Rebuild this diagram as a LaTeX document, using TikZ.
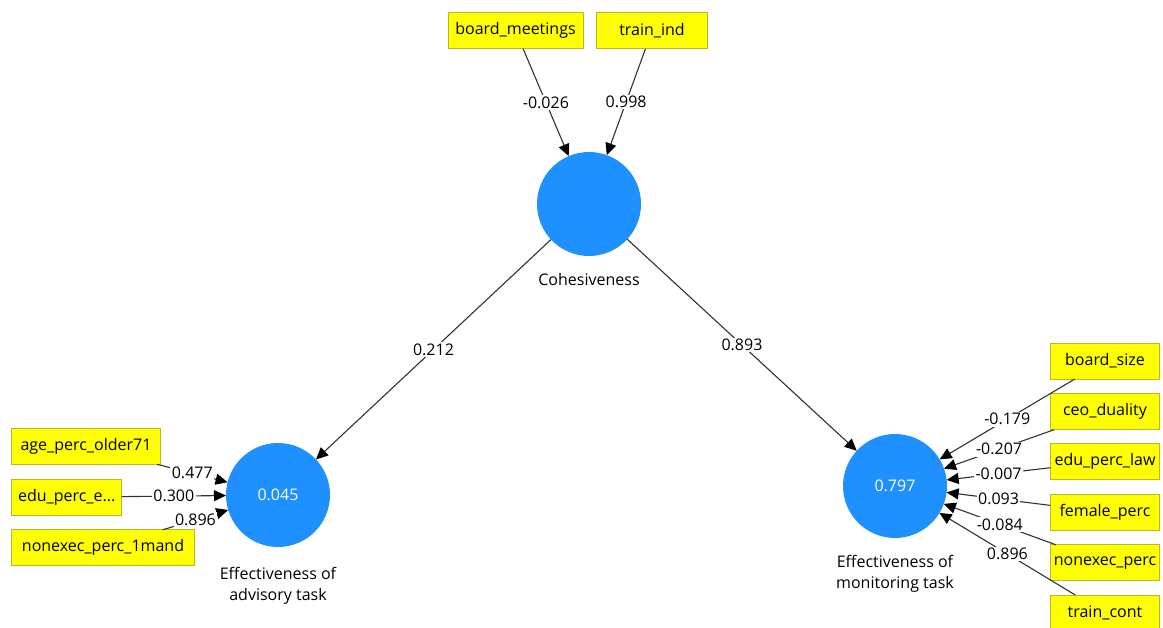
\documentclass[tikz,border=0pt]{standalone}
\usepackage{fontspec}
\setmainfont{Open Sans}
\usetikzlibrary{arrows.meta}

\definecolor{plsblue}{RGB}{30,144,255}
\definecolor{mvfill}{RGB}{255,255,0}
\definecolor{mvborder}{RGB}{185,185,40}
\definecolor{pathgray}{RGB}{50,50,50}

\tikzset{
  every node/.style={font=\fontsize{16}{21}\selectfont},
  lv/.style={circle, fill=plsblue, draw=none, minimum size=104pt,
             inner sep=0pt, outer sep=0pt, text=white},
  mv/.style={rectangle, fill=mvfill, draw=mvborder, line width=0.9pt,
             minimum height=36pt, inner sep=0pt, outer sep=0pt, text=black},
  lvcaption/.style={anchor=north, align=center, inner sep=0pt, text=black},
  pathline/.style={draw=pathgray, line width=1.1pt,
                   -{Triangle[length=12pt,width=11pt,black]}},
  coef/.style={midway, fill=white, inner sep=1.5pt, text=black}
}

\begin{document}
\begin{tikzpicture}[x=1pt,y=-1pt]
  \useasboundingbox (0,0) rectangle (1163,628);

  % latent variables
  \node[lv] (coh) at (589,204) {};
  \node[lv] (adv) at (278,495) {0.045};
  \node[lv] (mon) at (895,486) {0.797};

  \node[lvcaption] (cohcap) at (589,273) {Cohesiveness};
  \node[lvcaption] (advcap) at (278,567) {Effectiveness of\\advisory task};
  \node[lvcaption] (moncap) at (895,555) {Effectiveness of\\monitoring task};

  % indicators of Cohesiveness
  \node[mv, minimum width=135pt] (bm) at (515.5,30.8) {board\_meetings};
  \node[mv, minimum width=110.5pt] (ti) at (652,30.8) {train\_ind};

  % indicators of advisory task
  \node[mv, minimum width=148.5pt] (age) at (86,446.3) {age\_perc\_older71};
  \node[mv, minimum width=110pt] (edue) at (66.7,497.2) {edu\_perc\_e...};
  \node[mv, minimum width=182.5pt] (ne1) at (103,547.8) {nonexec\_perc\_1mand};

  % indicators of monitoring task
  \node[mv, minimum width=109pt] (bs) at (1105,361) {board\_size};
  \node[mv, minimum width=109pt] (ceo) at (1105,411.7) {ceo\_duality};
  \node[mv, minimum width=109pt] (law) at (1105,461.3) {edu\_perc\_law};
  \node[mv, minimum width=109pt] (fem) at (1105,512.2) {female\_perc};
  \node[mv, minimum width=109pt] (nep) at (1105,562.8) {nonexec\_perc};
  \node[mv, minimum width=109pt] (tc) at (1105,613) {train\_cont};

  % outer weights
  \draw[pathline] (bm) -- (coh) node[coef] {-0.026};
  \draw[pathline] (ti) -- (coh) node[coef] {0.998};

  \draw[pathline] (age) -- (adv) node[coef] {0.477};
  \draw[pathline] (edue) -- (adv) node[coef] {0.300};
  \draw[pathline] (ne1) -- (adv) node[coef] {0.896};

  \draw[pathline] (bs) -- (mon) node[coef] {-0.179};
  \draw[pathline] (ceo) -- (mon) node[coef] {-0.207};
  \draw[pathline] (law) -- (mon) node[coef] {-0.007};
  \draw[pathline] (fem) -- (mon) node[coef] {0.093};
  \draw[pathline] (nep) -- (mon) node[coef] {-0.084};
  \draw[pathline] (tc) -- (mon) node[coef] {0.896};

  % structural paths
  \draw[pathline] (coh) -- (adv) node[coef] {0.212};
  \draw[pathline] (coh) -- (mon) node[coef] {0.893};
\end{tikzpicture}
\end{document}
